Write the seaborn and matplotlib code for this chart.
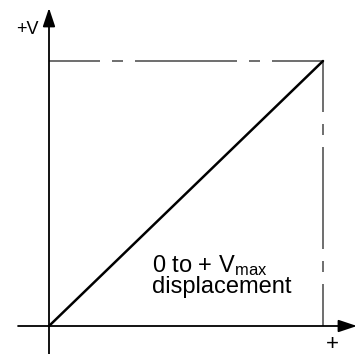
import matplotlib
matplotlib.use("Agg")
import matplotlib.pyplot as plt
import seaborn as sns
import pandas as pd

# ---- data ----
displacement = [0.0, 1.0]
voltage = [0.0, 1.0]
v_max = 1.0
x_axis_range = [-0.113, 1.124]
y_axis_range = [-0.106, 1.200]
y_label = "+V"
x_label = "+"
note_line1 = r"0 to + V$_{\mathregular{max}}$"
note_line2 = "displacement"

sns.set_theme(style="white")
plt.rcParams['font.family'] = ['Liberation Sans', 'DejaVu Sans']
plt.rcParams['mathtext.fontset'] = 'custom'
plt.rcParams['mathtext.rm'] = 'Liberation Sans'
plt.rcParams['mathtext.it'] = 'Liberation Sans'
plt.rcParams['lines.scale_dashes'] = False

fig = plt.figure(figsize=(3.59, 3.54), dpi=100)
ax = fig.add_axes([0, 0, 1, 1])
ax.set_xlim(-49 / 274, 310 / 274)
ax.set_ylim(-28 / 265, 326 / 265)
ax.axis('off')

# dashed frame (long-short-long)
px = 0.72
dash = (51 * px, (102 * px, 12 * px, 11 * px, 12 * px))
ax.plot([0, v_max], [v_max, v_max], color='#555555', lw=1.2, linestyle=dash,
        solid_capstyle='butt', dash_capstyle='butt')
ax.plot([v_max, v_max], [v_max, 0], color='#555555', lw=1.2, linestyle=dash,
        solid_capstyle='butt', dash_capstyle='butt')

# diagonal characteristic
df = pd.DataFrame({'displacement': displacement, 'voltage': voltage})
sns.lineplot(data=df, x='displacement', y='voltage', ax=ax, color='black', lw=1.8)
ax.axis('off')

# axes with arrows
arrow = dict(arrowstyle='-|>,head_length=0.45,head_width=0.15', lw=1.3,
             color='black', mutation_scale=25, shrinkA=0, shrinkB=0)
ax.annotate('', xy=(x_axis_range[1], 0), xytext=(x_axis_range[0], 0), arrowprops=arrow)
ax.annotate('', xy=(0, y_axis_range[1]), xytext=(0, y_axis_range[0]), arrowprops=arrow)

ax.text(-0.038, 1.102, y_label, ha='right', va='baseline', fontsize=13, color='black')
ax.text(1.033, -0.090, x_label, ha='center', va='baseline', fontsize=16, color='black')
ax.text(0.376, 0.204, note_line1, ha='left', va='baseline', fontsize=17, color='black')
ax.text(0.376, 0.125, note_line2, ha='left', va='baseline', fontsize=17, color='black')

fig.savefig('out.png', dpi=100)
